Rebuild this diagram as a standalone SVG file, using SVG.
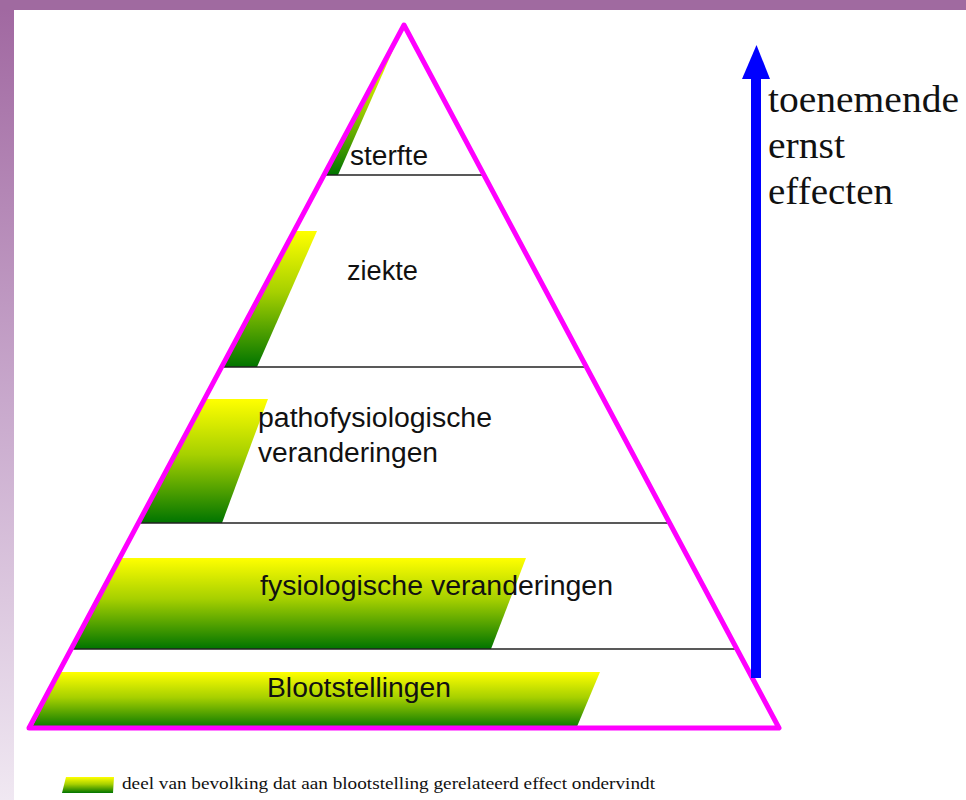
<svg xmlns="http://www.w3.org/2000/svg" width="966" height="800" viewBox="0 0 966 800">
<defs>
<linearGradient id="band" x1="0" y1="0" x2="0" y2="1">
<stop offset="0" stop-color="#ffff00"/>
<stop offset="0.45" stop-color="#a6d000"/>
<stop offset="1" stop-color="#007400"/>
</linearGradient>
<linearGradient id="side" x1="0" y1="0" x2="0" y2="1">
<stop offset="0" stop-color="#a067a0"/>
<stop offset="0.5" stop-color="#c8a8cc"/>
<stop offset="1" stop-color="#f0e8f2"/>
</linearGradient>
</defs>
<style>
.lbl{font-family:"Liberation Sans",Arial,sans-serif;font-size:27px;fill:#111}
.ser{font-family:"Liberation Serif","Times New Roman",serif;fill:#111}
.sep{stroke:#222;stroke-width:1.5;fill:none}
.bnd{fill:url(#band)}
</style>
<rect x="0" y="0" width="966" height="800" fill="#ffffff"/>
<rect x="0" y="0" width="14" height="800" fill="url(#side)"/>
<rect x="0" y="0" width="966" height="10" fill="#a06aa0"/>

<g id="blootstellingen">
<polygon class="bnd" points="60,672 600,672 576,729 31,729"/>
<text class="lbl" x="267" y="697" textLength="184" lengthAdjust="spacingAndGlyphs">Blootstellingen</text>
</g>
<g id="fysiologische">
<polygon class="bnd" points="120,558 526,558 491,649 71,649"/>
<line class="sep" x1="72" y1="649" x2="736" y2="649"/>
<text class="lbl" x="260" y="595" textLength="353" lengthAdjust="spacingAndGlyphs">fysiologische veranderingen</text>
</g>
<g id="pathofysiologische">
<polygon class="bnd" points="205,399 268,399 222,523 139,523"/>
<line class="sep" x1="139" y1="523" x2="669" y2="523"/>
<text class="lbl" x="258" y="427" textLength="234" lengthAdjust="spacingAndGlyphs">pathofysiologische</text>
<text class="lbl" x="258" y="462" textLength="180" lengthAdjust="spacingAndGlyphs">veranderingen</text>
</g>
<g id="ziekte">
<polygon class="bnd" points="294,231 317,231 257,367 222,367"/>
<line class="sep" x1="222" y1="367" x2="586" y2="367"/>
<text class="lbl" x="347" y="280" textLength="71" lengthAdjust="spacingAndGlyphs">ziekte</text>
</g>
<g id="sterfte">
<polygon class="bnd" points="391,48 394,48 338,175 322,175"/>
<line class="sep" x1="322" y1="175" x2="484" y2="175"/>
<text class="lbl" x="350" y="165" textLength="78" lengthAdjust="spacingAndGlyphs">sterfte</text>
</g>

<g id="pyramid">
<polygon points="404,25 779,728 29,728" fill="none" stroke="#ff00ff" stroke-width="5" stroke-linejoin="round"/>
</g>

<g id="connectors">
<rect x="751" y="76" width="10" height="602" fill="#0000ff"/>
<polygon points="756.5,45 742,79 770,79" fill="#0000ff"/>
</g>

<g id="ernst-label">
<text class="ser" x="768" y="112" font-size="38" textLength="191" lengthAdjust="spacingAndGlyphs">toenemende</text>
<text class="ser" x="768" y="158" font-size="38" textLength="77" lengthAdjust="spacingAndGlyphs">ernst</text>
<text class="ser" x="768" y="204" font-size="38" textLength="125" lengthAdjust="spacingAndGlyphs">effecten</text>
</g>

<g id="legend">
<polygon class="bnd" points="66,777 114,777 113,793 62,793"/>
<text class="ser" x="122" y="789" font-size="17" textLength="533" lengthAdjust="spacingAndGlyphs">deel van bevolking dat aan blootstelling gerelateerd effect ondervindt</text>
</g>
</svg>
